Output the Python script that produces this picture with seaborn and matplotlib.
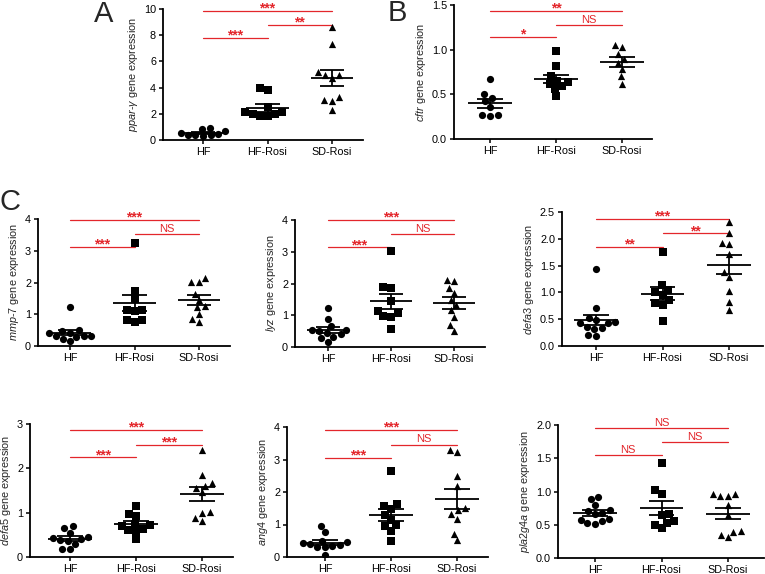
import numpy as np
import pandas as pd
import matplotlib
matplotlib.use('Agg')
import matplotlib.pyplot as plt
import seaborn as sns

# groups shared by all panels
groups = ['HF', 'HF-Rosi', 'SD-Rosi']

# one list per group
ppar_hf = [0.95, 0.85, 0.70, 0.55, 0.45, 0.40, 0.35, 0.30, 0.35]
ppar_hfrosi = [4.0, 3.8, 2.5, 2.1, 2.1, 2.0, 1.8, 1.8, 2.0]
ppar_sdrosi = [8.6, 7.35, 5.2, 4.95, 4.95, 4.7, 3.05, 3.0, 3.25, 2.3]

cftr_hf = [0.67, 0.50, 0.46, 0.42, 0.36, 0.27, 0.26, 0.27]
cftr_hfrosi = [0.98, 0.82, 0.70, 0.65, 0.64, 0.62, 0.59, 0.56, 0.48]
cftr_sdrosi = [1.05, 1.03, 0.95, 0.90, 0.85, 0.78, 0.70, 0.62]

mmp7_hf = [1.22, 0.48, 0.50, 0.42, 0.40, 0.33, 0.30, 0.30, 0.22, 0.16, 0.29]
mmp7_hfrosi = [3.25, 1.72, 1.47, 1.12, 1.12, 1.10, 0.83, 0.76, 0.82]
mmp7_sdrosi = [2.14, 2.02, 2.02, 1.65, 1.46, 1.25, 1.22, 0.84, 0.76, 1.0]

lyz_hf = [1.22, 0.87, 0.65, 0.55, 0.55, 0.50, 0.45, 0.40, 0.33, 0.28, 0.17]
lyz_hfrosi = [3.03, 1.88, 1.86, 1.45, 1.12, 0.97, 0.96, 1.07, 0.57]
lyz_sdrosi = [2.07, 2.12, 1.85, 1.69, 1.48, 1.32, 1.16, 0.95, 0.69, 0.50]

defa3_hf = [1.43, 0.70, 0.52, 0.48, 0.42, 0.42, 0.36, 0.34, 0.32, 0.20, 0.19, 0.44]
defa3_hfrosi = [1.75, 1.14, 1.05, 1.00, 0.95, 0.85, 0.80, 0.77, 0.46]
defa3_sdrosi = [2.32, 2.10, 1.90, 1.92, 1.72, 1.38, 1.28, 1.02, 0.83, 0.68]

defa5_hf = [0.70, 0.65, 0.55, 0.45, 0.42, 0.40, 0.38, 0.30, 0.19, 0.18, 0.35]
defa5_hfrosi = [1.16, 0.98, 0.92, 0.74, 0.72, 0.70, 0.64, 0.60, 0.58, 0.41]
defa5_sdrosi = [2.42, 1.84, 1.66, 1.61, 1.55, 1.46, 1.01, 1.00, 0.87, 0.82]

ang4_hf = [0.95, 0.76, 0.50, 0.45, 0.42, 0.40, 0.36, 0.35, 0.32, 0.07, 0.30]
ang4_hfrosi = [2.66, 1.62, 1.56, 1.48, 1.30, 1.15, 0.97, 0.94, 0.80, 0.50]
ang4_sdrosi = [3.28, 3.22, 2.48, 2.18, 1.50, 1.32, 1.17, 0.71, 0.51, 1.45]

pla_hf = [0.92, 0.89, 0.80, 0.72, 0.70, 0.68, 0.66, 0.58, 0.57, 0.56, 0.52, 0.51]
pla_hfrosi = [1.43, 1.02, 0.96, 0.66, 0.64, 0.56, 0.52, 0.50, 0.45]
pla_sdrosi = [0.96, 0.93, 0.93, 0.96, 0.80, 0.65, 0.40, 0.39, 0.35, 0.31]

# significance brackets: (from group, to group, height, label)
ppar_sig = [(0, 2, 9.87, '***'), (1, 2, 8.8, '**'), (0, 1, 7.81, '***')]
cftr_sig = [(0, 2, 1.437, '**'), (1, 2, 1.28, 'NS'), (0, 1, 1.139, '*')]
mmp7_sig = [(0, 2, 3.98, '***'), (1, 2, 3.53, 'NS'), (0, 1, 3.13, '***')]
lyz_sig = [(0, 2, 4.0, '***'), (1, 2, 3.56, 'NS'), (0, 1, 3.14, '***')]
defa3_sig = [(0, 2, 2.37, '***'), (1, 2, 2.10, '**'), (0, 1, 1.855, '**')]
defa5_sig = [(0, 2, 2.86, '***'), (1, 2, 2.53, '***'), (0, 1, 2.245, '***')]
ang4_sig = [(0, 2, 3.9, '***'), (1, 2, 3.46, 'NS'), (0, 1, 3.05, '***')]
pla_sig = [(0, 2, 1.95, 'NS'), (1, 2, 1.75, 'NS'), (0, 1, 1.55, 'NS')]

# panel setup: data, label, y ticks, pixel box (left, right, top, bottom), HF / SD-Rosi tick px
panels = [
    ([ppar_hf, ppar_hfrosi, ppar_sdrosi], ppar_sig, r'$\mathit{ppar}$-$\mathit{\gamma}$ gene expression',
     [0, 2, 4, 6, 8, 10], '%d', (163, 363, 9, 140), (203, 332)),
    ([cftr_hf, cftr_hfrosi, cftr_sdrosi], cftr_sig, r'$\mathit{cftr}$ gene expression',
     [0.0, 0.5, 1.0, 1.5], '%.1f', (454, 652, 5, 139), (490, 622)),
    ([mmp7_hf, mmp7_hfrosi, mmp7_sdrosi], mmp7_sig, r'$\mathit{mmp}$-$\mathit{7}$ gene expression',
     [0, 1, 2, 3, 4], '%d', (38, 230, 219, 346), (70, 199)),
    ([lyz_hf, lyz_hfrosi, lyz_sdrosi], lyz_sig, r'$\mathit{lyz}$ gene expression',
     [0, 1, 2, 3, 4], '%d', (295, 485, 220, 347), (328, 454)),
    ([defa3_hf, defa3_hfrosi, defa3_sdrosi], defa3_sig, r'$\mathit{defa3}$ gene expression',
     [0.0, 0.5, 1.0, 1.5, 2.0, 2.5], '%.1f', (562, 763, 212, 346), (596, 729)),
    ([defa5_hf, defa5_hfrosi, defa5_sdrosi], defa5_sig, r'$\mathit{defa5}$ gene expression',
     [0, 1, 2, 3], '%d', (30, 233, 424, 557), (70, 202)),
    ([ang4_hf, ang4_hfrosi, ang4_sdrosi], ang4_sig, r'$\mathit{ang4}$ gene expression',
     [0, 1, 2, 3, 4], '%d', (287, 488, 427, 557), (325, 457)),
    ([pla_hf, pla_hfrosi, pla_sdrosi], pla_sig, r'$\mathit{pla2g4a}$ gene expression',
     [0.0, 0.5, 1.0, 1.5, 2.0], '%.1f', (558, 764, 425, 558), (595, 728)),
]

markers = ['o', 's', '^']
RED = '#e3262b'
W, H = 765, 574

sns.set_style('ticks')
plt.rcParams['font.family'] = ['Liberation Sans', 'DejaVu Sans']
plt.rcParams['mathtext.fontset'] = 'custom'
plt.rcParams['mathtext.rm'] = 'Liberation Sans'
plt.rcParams['mathtext.it'] = 'Liberation Sans:italic'

fig = plt.figure(figsize=(W / 100, H / 100), dpi=100)

for values, sig, ylabel, yticks, fmt, box, ticks_px in panels:
    x0, x1, ytop, ybot = box
    ax = fig.add_axes([x0 / W, 1 - ybot / H, (x1 - x0) / W, (ybot - ytop) / H])

    df = pd.DataFrame({
        'group': np.repeat(groups, [len(v) for v in values]),
        'value': np.concatenate(values),
    })
    for g, m in zip(groups, markers):
        sns.swarmplot(data=df[df['group'] == g], x='group', y='value', order=groups,
                      marker=m, color='black', size=5.2, ax=ax, zorder=3)

    # mean +/- SEM
    stats = df.groupby('group', sort=False)['value'].agg(['mean', 'sem'])
    for i, g in enumerate(groups):
        mu, se = stats.loc[g, 'mean'], stats.loc[g, 'sem']
        ax.hlines(mu, i - 0.33, i + 0.33, color='black', lw=1.3, zorder=4)
        ax.hlines([mu - se, mu + se], i - 0.19, i + 0.19, color='black', lw=1.3, zorder=4)
        ax.vlines(i, mu - se, mu + se, color='black', lw=1.3, zorder=4)

    # significance brackets
    for a, b, y, lab in sig:
        ax.plot([a, b], [y, y], color=RED, lw=0.9, clip_on=False)
        if lab == 'NS':
            ax.annotate(lab, ((a + b) / 2, y), xytext=(0, 1.5), textcoords='offset points',
                        ha='center', va='baseline', color=RED, fontsize=8, annotation_clip=False)
        else:
            ax.annotate(lab, ((a + b) / 2, y), xytext=(0, -1.2), textcoords='offset points',
                        ha='center', va='baseline', color=RED, fontsize=10, fontweight='bold',
                        annotation_clip=False)

    unit = (ticks_px[1] - ticks_px[0]) / 2
    ax.set_xlim(-(ticks_px[0] - x0) / unit, 2 + (x1 - ticks_px[1]) / unit)
    ax.set_ylim(yticks[0], yticks[-1])
    ax.set_yticks(yticks)
    ax.set_yticklabels([fmt % t for t in yticks])
    ax.set_xlabel('')
    ax.set_ylabel(ylabel, fontsize=7.8, labelpad=3)
    ax.tick_params(labelsize=7.8, length=3, width=1.1, pad=2, colors='black')
    for side in ['top', 'right']:
        ax.spines[side].set_visible(False)
    for side in ['left', 'bottom']:
        ax.spines[side].set_linewidth(1.3)
        ax.spines[side].set_color('black')

# panel letters
for lab, (px, py) in {'A': (104, 14), 'B': (397, 13), 'C': (10, 202)}.items():
    fig.text(px / W, 1 - py / H, lab, fontsize=21, ha='center', va='center')

fig.savefig('out.png', dpi=100)
